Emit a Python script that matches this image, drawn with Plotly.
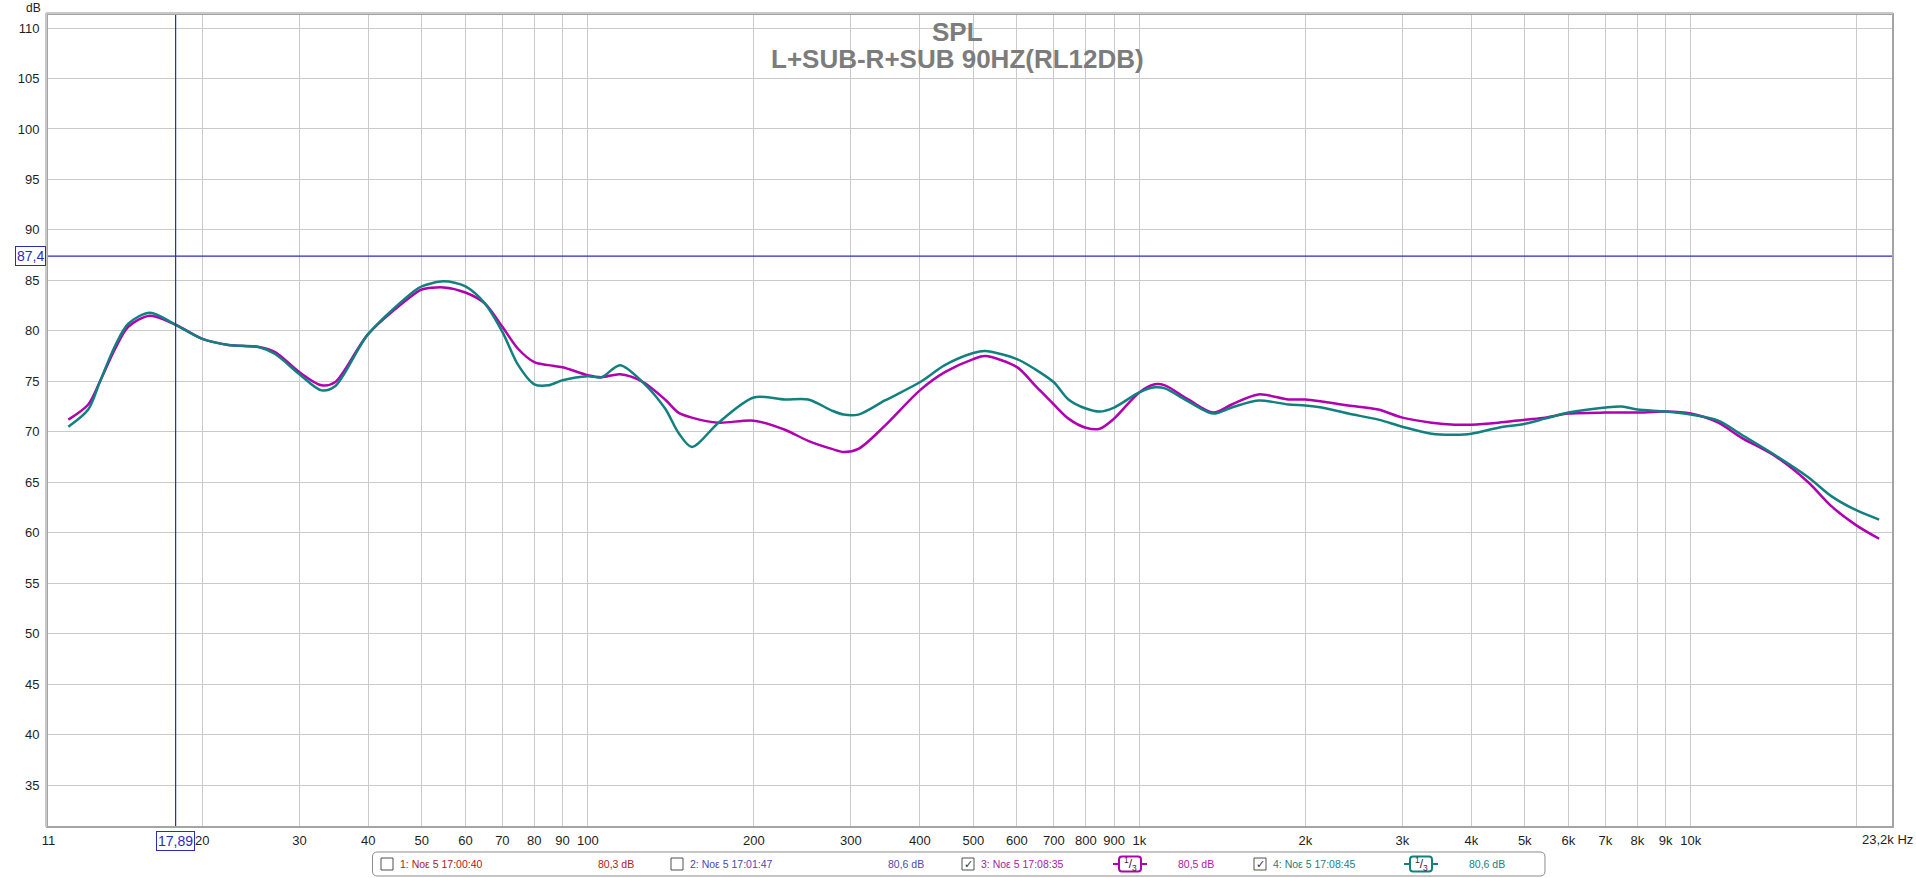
import plotly.graph_objects as go

# ---------------- data ----------------
freq_hz = [11.43, 12.42, 13.05, 13.89, 14.68, 16.07, 17.89, 20, 22.3, 25.3, 27.1, 30, 32.9, 34.8,
           40, 48.6, 50, 54.75, 60, 65.1, 70, 74.8, 80, 84.8, 90, 100, 105.9, 114.4, 125.3,
           138.1, 146, 154.4, 172.6, 200, 227.7, 251, 277, 291, 309.5, 345.8, 400, 444, 500,
           525, 600, 647, 700, 744, 800, 848, 900, 1000, 1067, 1113, 1227, 1362, 1471, 1644,
           1864, 2000, 2141, 2394, 2713, 3000, 3389, 3736, 4000, 4478, 5006, 5440, 6000, 7000,
           7500, 8000, 9000, 10000, 11216, 12368, 14210, 16330, 18010, 20000, 21960]

spl_meas3 = [71.2, 72.7, 75.0, 78.2, 80.4, 81.5, 80.6, 79.2, 78.6, 78.4, 77.9, 75.9, 74.6, 74.9,
             79.7, 83.7, 84.1, 84.3, 83.8, 82.7, 80.4, 78.2, 76.9, 76.6, 76.4, 75.6, 75.4, 75.7, 75.0,
             73.2, 71.9, 71.4, 70.9, 71.1, 70.2, 69.1, 68.3, 68.0, 68.3, 70.6, 74.1, 75.9, 77.2,
             77.5, 76.4, 74.6, 72.7, 71.3, 70.4, 70.3, 71.3, 73.9, 74.7, 74.6, 73.2, 71.9, 72.7, 73.7,
             73.2, 73.2, 73.0, 72.6, 72.2, 71.4, 70.9, 70.7, 70.7, 70.9, 71.2, 71.4, 71.8, 71.9,
             71.9, 71.9, 72.0, 71.8, 70.9, 69.4, 67.6, 65.0, 62.6, 60.7, 59.4]

spl_meas4 = [70.5, 72.2, 75.0, 78.5, 80.7, 81.8, 80.6, 79.2, 78.6, 78.4, 77.7, 75.7, 74.1, 74.5,
             79.7, 84.0, 84.4, 84.9, 84.4, 82.7, 79.9, 76.6, 74.7, 74.6, 75.1, 75.5, 75.4, 76.6, 75.0,
             72.3, 69.9, 68.5, 70.9, 73.4, 73.2, 73.2, 72.1, 71.7, 71.7, 73.1, 74.9, 76.6, 77.8,
             78.0, 77.2, 76.2, 74.9, 73.2, 72.3, 72.0, 72.4, 73.9, 74.4, 74.3, 73.0, 71.8, 72.4, 73.1,
             72.7, 72.6, 72.4, 71.8, 71.2, 70.5, 69.8, 69.7, 69.8, 70.4, 70.8, 71.3, 71.9, 72.4,
             72.5, 72.2, 72.0, 71.7, 71.1, 69.7, 67.7, 65.5, 63.6, 62.2, 61.3]

x_tick_vals = [10.52, 20, 30, 40, 50, 60, 70, 80, 90, 100, 200, 300, 400, 500, 600, 700, 800, 900,
               1000, 2000, 3000, 4000, 5000, 6000, 7000, 8000, 9000, 10000, 20000]
x_tick_text = ["11", "20", "30", "40", "50", "60", "70", "80", "90", "100", "200", "300", "400",
               "500", "600", "700", "800", "900", "1k", "2k", "3k", "4k", "5k", "6k", "7k", "8k",
               "9k", "10k", " "]
x_end_label = "23,2k Hz"
y_tick_vals = [35, 40, 45, 50, 55, 60, 65, 70, 75, 80, 85, 90, 95, 100, 105, 110]
y_tick_text = ["35", "40", "45", "50", "55", "60", "65", "70", "75", "80", "85", "90", "95",
               "100", "105", "110"]

cursor_freq = 17.89
cursor_db = 87.4
cursor_freq_text = "17,89"
cursor_db_text = "87,4"

title_line1 = "SPL"
title_line2 = "L+SUB-R+SUB 90HZ(RL12DB)"

legend_labels = ["1: Noε 5 17:00:40", "2: Noε 5 17:01:47", "3: Noε 5 17:08:35", "4: Noε 5 17:08:45"]
legend_levels = ["80,3 dB", "80,6 dB", "80,5 dB", "80,6 dB"]
legend_checked = [False, False, True, True]
legend_smoothing = [False, False, True, True]

# ---------------- styling ----------------
COL3 = "#B000B0"
COL4 = "#138080"
CURSOR = "#2B2BBE"
GRID = "#CACACA"
legend_colors = ["#A82222", "#4A4AAE", "#A81AA8", "#1E8080"]
legend_box_x = [381, 671, 962, 1254]
legend_text_x = [398, 688, 979, 1271]
legend_level_x = [596, 886, 1176, 1467]
legend_icon_x = [None, None, 1130, 1421]

W, H = 1916, 878
L, R, T, B = 48, 1892, 15, 826
FONT = "Liberation Sans, Arial, sans-serif"


def px(x, y):
    return (x - L) / (R - L), (B - y) / (B - T)


def rrect_path(x0, y0, x1, y1, r):
    pts = [("M", [(x0 + r, y0)]), ("L", [(x1 - r, y0)]), ("Q", [(x1, y0), (x1, y0 + r)]),
           ("L", [(x1, y1 - r)]), ("Q", [(x1, y1), (x1 - r, y1)]), ("L", [(x0 + r, y1)]),
           ("Q", [(x0, y1), (x0, y1 - r)]), ("L", [(x0, y0 + r)]), ("Q", [(x0, y0), (x0 + r, y0)])]
    s = ""
    for cmd, ps in pts:
        s += cmd + " " + " ".join("%.6f,%.6f" % px(a, b) for a, b in ps) + " "
    return s + "Z"


fig = go.Figure()

fig.add_trace(go.Scatter(x=freq_hz, y=spl_meas3, mode="lines",
                         line=dict(color=COL3, width=2.5, shape="spline", smoothing=0.85),
                         hoverinfo="skip", showlegend=False))
fig.add_trace(go.Scatter(x=freq_hz, y=spl_meas4, mode="lines",
                         line=dict(color=COL4, width=2.5, shape="spline", smoothing=0.85),
                         hoverinfo="skip", showlegend=False))

# cursor lines
fig.add_trace(go.Scatter(x=[cursor_freq, cursor_freq], y=[30.94, 111.29], mode="lines",
                         line=dict(color=CURSOR, width=1.2), hoverinfo="skip", showlegend=False))
fig.add_trace(go.Scatter(x=[10.5, 23170], y=[cursor_db, cursor_db], mode="lines",
                         line=dict(color=CURSOR, width=1.2), hoverinfo="skip", showlegend=False))

shapes = []
annotations = []

# extra border shading (left/top bevel)
for (ax0, ay0, ax1, ay1) in [(L - 2, T - 2, L - 2, B + 1), (L - 2, T - 2, R + 1, T - 2)]:
    a0, b0 = px(ax0, ay0)
    a1, b1 = px(ax1, ay1)
    shapes.append(dict(type="line", xref="paper", yref="paper", x0=a0, y0=b0, x1=a1, y1=b1,
                       line=dict(color="#C8C8C8", width=2), layer="above"))

# titles
for txt, yy in [(title_line1, 32), (title_line2, 59)]:
    xp, yp = px(957, yy)
    annotations.append(dict(x=xp, y=yp, xref="paper", yref="paper", text="<b>%s</b>" % txt,
                            showarrow=False, xanchor="center", yanchor="middle",
                            font=dict(family=FONT, size=26, color="#7C7C7C")))

# dB unit label
xp, yp = px(33, 8)
annotations.append(dict(x=xp, y=yp, xref="paper", yref="paper", text="dB", showarrow=False,
                        xanchor="center", yanchor="middle",
                        font=dict(family=FONT, size=12, color="#222222")))

# right end x label
xp, yp = px(1860, 840)
annotations.append(dict(x=xp, y=yp, xref="paper", yref="paper", text=x_end_label,
                        showarrow=False, xanchor="left", yanchor="middle",
                        font=dict(family=FONT, size=13, color="#1E1E1E")))

# cursor value boxes
xp, yp = px(30.5, 256)
annotations.append(dict(x=xp, y=yp, xref="paper", yref="paper", text=cursor_db_text,
                        showarrow=False, xanchor="center", yanchor="middle",
                        bgcolor="white", bordercolor=CURSOR, borderwidth=1, borderpad=1,
                        font=dict(family=FONT, size=14, color=CURSOR)))
xp, yp = px(175.5, 841)
annotations.append(dict(x=xp, y=yp, xref="paper", yref="paper", text=cursor_freq_text,
                        showarrow=False, xanchor="center", yanchor="middle",
                        bgcolor="white", bordercolor=CURSOR, borderwidth=1, borderpad=1,
                        font=dict(family=FONT, size=14, color=CURSOR)))

# legend bar
shapes.append(dict(type="path", xref="paper", yref="paper",
                   path=rrect_path(372.5, 852, 1545, 876, 5),
                   line=dict(color="#8C8C8C", width=1), fillcolor="white", layer="above"))
LY = 864
for i in range(4):
    bx = legend_box_x[i]
    x0, y0 = px(bx, LY - 6)
    x1, y1 = px(bx + 12, LY + 6)
    shapes.append(dict(type="rect", xref="paper", yref="paper", x0=x0, y0=y0, x1=x1, y1=y1,
                       line=dict(color="#505050", width=1), fillcolor="white", layer="above"))
    if legend_checked[i]:
        xp, yp = px(bx + 6, LY)
        annotations.append(dict(x=xp, y=yp, xref="paper", yref="paper", text="✓",
                                showarrow=False, xanchor="center", yanchor="middle",
                                font=dict(family="DejaVu Sans", size=11, color="#303030")))
    xp, yp = px(legend_text_x[i], LY)
    annotations.append(dict(x=xp, y=yp, xref="paper", yref="paper", text=legend_labels[i],
                            showarrow=False, xanchor="left", yanchor="middle",
                            font=dict(family=FONT, size=10.5, color=legend_colors[i])))
    xp, yp = px(legend_level_x[i], LY)
    annotations.append(dict(x=xp, y=yp, xref="paper", yref="paper", text=legend_levels[i],
                            showarrow=False, xanchor="left", yanchor="middle",
                            font=dict(family=FONT, size=10.5, color=legend_colors[i])))
    if legend_smoothing[i]:
        cx = legend_icon_x[i]
        col = COL3 if i == 2 else COL4
        a0, b0 = px(cx - 17, LY)
        a1, b1 = px(cx + 17, LY)
        shapes.append(dict(type="line", xref="paper", yref="paper", x0=a0, y0=b0, x1=a1, y1=b1,
                           line=dict(color=col, width=2), layer="above"))
        shapes.append(dict(type="path", xref="paper", yref="paper",
                           path=rrect_path(cx - 11, LY - 7.5, cx + 11, LY + 7.5, 3),
                           line=dict(color=col, width=2), fillcolor="white", layer="above"))
        xp, yp = px(cx, LY)
        annotations.append(dict(x=xp, y=yp, xref="paper", yref="paper",
                                text="<sup>1</sup>/<sub>3</sub>", showarrow=False,
                                xanchor="center", yanchor="middle",
                                font=dict(family=FONT, size=12, color="#3A1A3A")))

fig.update_layout(
    width=W, height=H,
    margin=dict(l=L, r=W - R, t=T, b=H - B, pad=0),
    paper_bgcolor="white", plot_bgcolor="white",
    shapes=shapes, annotations=annotations,
    showlegend=False,
    xaxis=dict(type="log", range=[1.02119, 4.36492], tickmode="array",
               tickvals=x_tick_vals, ticktext=x_tick_text, showgrid=True, gridcolor=GRID,
               gridwidth=1, zeroline=False, showline=True, mirror=True, linecolor="#A4A4A4",
               linewidth=2, ticks="", ticklabelstandoff=1, automargin=False,
               tickfont=dict(family=FONT, size=13, color="#1E1E1E")),
    yaxis=dict(range=[30.94, 111.29], tickmode="array", tickvals=y_tick_vals,
               ticktext=y_tick_text, showgrid=True, gridcolor=GRID, gridwidth=1,
               zeroline=False, showline=True, mirror=True, linecolor="#A4A4A4", linewidth=2,
               ticks="", ticklabelstandoff=4, automargin=False,
               tickfont=dict(family=FONT, size=13, color="#1E1E1E")),
)

fig.write_html("out.html", config={"displayModeBar": False},
               post_script="document.body.style.margin='0';document.body.style.overflow='hidden';")
